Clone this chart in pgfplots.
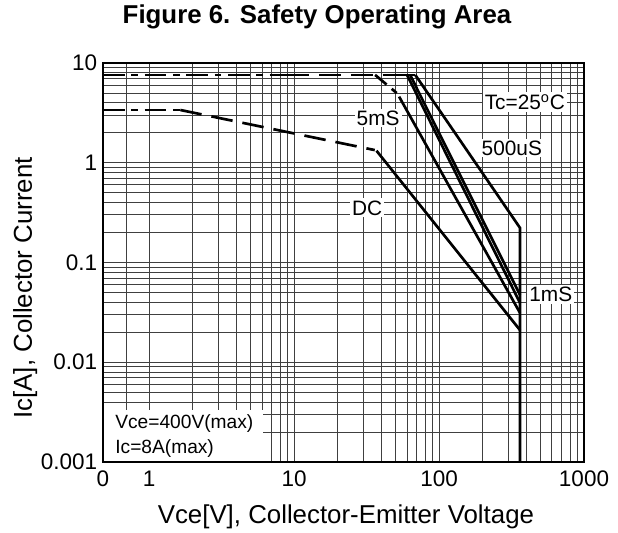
\documentclass[border=0pt]{standalone}
\usepackage{fontspec}
\setmainfont{Liberation Sans}
\usepackage{pgfplots}
\pgfplotsset{compat=1.18}
\usetikzlibrary{calc}

\begin{document}
\begin{tikzpicture}
\begin{axis}[name=ax,
  xmode=log, ymode=log,
  scale only axis, width=288.6pt, height=239.4pt,
  xmin=0.48, xmax=1000, ymin=0.001, ymax=10,
  xtick={0.48,1,10,100,1000}, xticklabels={0,1,10,100,1000},
  ytick={0.001,0.01,0.1,1,10}, yticklabels={0.001,0.01,0.1,1,10},
  minor xtick={0.7,2,3,4,5,6,7,8,9,20,30,40,50,60,70,80,90,200,300,400,500,600,700,800,900},
  minor ytick={0.002,0.003,0.004,0.005,0.006,0.007,0.008,0.009,
               0.02,0.03,0.04,0.05,0.06,0.07,0.08,0.09,
               0.2,0.3,0.4,0.5,0.6,0.7,0.8,0.9,2,3,4,5,6,7,8,9},
  grid=both,
  major grid style={black!75, line width=0.5pt},
  minor grid style={black!75, line width=0.5pt},
  major tick length=0pt, minor tick length=0pt,
  axis line style={black, line width=0.9pt},
  tick label style={font=\fontsize{13.5}{15}\selectfont},
  xticklabel style={yshift=-2pt},
  xlabel={Vce[V], Collector-Emitter Voltage},
  ylabel={Ic[A], Collector Current},
  label style={font=\fontsize{15.5}{18}\selectfont},
  xlabel style={at={(axis description cs:0.505,-0.138)}, anchor=center},
  ylabel style={at={(axis description cs:-0.162,0.436)}, anchor=center},
]
% 8 A limit
\addplot[black, line width=1.6pt, dash pattern=on 13pt off 4pt on 4pt off 4pt]
  coordinates {(0.48,7.6) (9,7.6)};
\addplot[black, line width=1.6pt, dash pattern=on 13pt off 6pt]
  coordinates {(9,7.6) (49,7.6)};
\addplot[black, line width=1.6pt] coordinates {(49,7.6) (68.5,7.6)};
% 500uS
\addplot[black, line width=1.6pt] coordinates {(68.5,7.6) (362,0.222) (362,0.001)};
% 1mS and neighbour
\addplot[black, line width=1.6pt] coordinates {(63.1,7.6) (362,0.0472)};
\addplot[black, line width=1.6pt] coordinates {(60.1,7.6) (362,0.0393)};
% 5mS
\addplot[black, line width=1.6pt, dash pattern=on 9pt off 4pt]
  coordinates {(36.2,7.6) (51,5.0)};
\addplot[black, line width=1.6pt] coordinates {(53,4.6) (362,0.0312)};
% DC
\addplot[black, line width=1.6pt, dash pattern=on 13pt off 4pt on 4pt off 4pt]
  coordinates {(0.48,3.38) (1.64,3.38)};
\addplot[black, line width=1.6pt, dash pattern=on 13pt off 6pt]
  coordinates {(1.64,3.38) (36,1.34)};
\addplot[black, line width=1.6pt] coordinates {(37,1.32) (362,0.021)};

\begin{scope}[every node/.style={fill=white, inner sep=1.2pt, font=\fontsize{12.5}{15}\selectfont}]
\node at (axis description cs:0.877,0.902) {Tc=25\textsuperscript{o}C};
\node at (axis description cs:0.572,0.862) {5mS};
\node at (axis description cs:0.850,0.787) {500uS};
\node at (axis description cs:0.549,0.637) {DC};
\node at (axis description cs:0.931,0.419) {1mS};
\end{scope}
\fill[white] ([shift={(0.5pt,0.5pt)}]axis description cs:0,0) rectangle (axis description cs:0.333,0.13);
\node[anchor=west, align=left, inner sep=0pt, font=\fontsize{11.5}{14.5}\selectfont]
  at (axis description cs:0.025,0.065) {Vce=400V(max)\\Ic=8A(max)};
\end{axis}
\node[font=\bfseries\fontsize{15.5}{18}\selectfont] at ($(ax.south west)+(128.4pt,267pt)$)
  {Figure 6. Safety Operating Area};
\pgfresetboundingbox
\path[use as bounding box] ($(ax.south west)+(-61.8pt,-42.6pt)$) rectangle ($(ax.north east)+(20.4pt,37.8pt)$);
\end{tikzpicture}
\end{document}
